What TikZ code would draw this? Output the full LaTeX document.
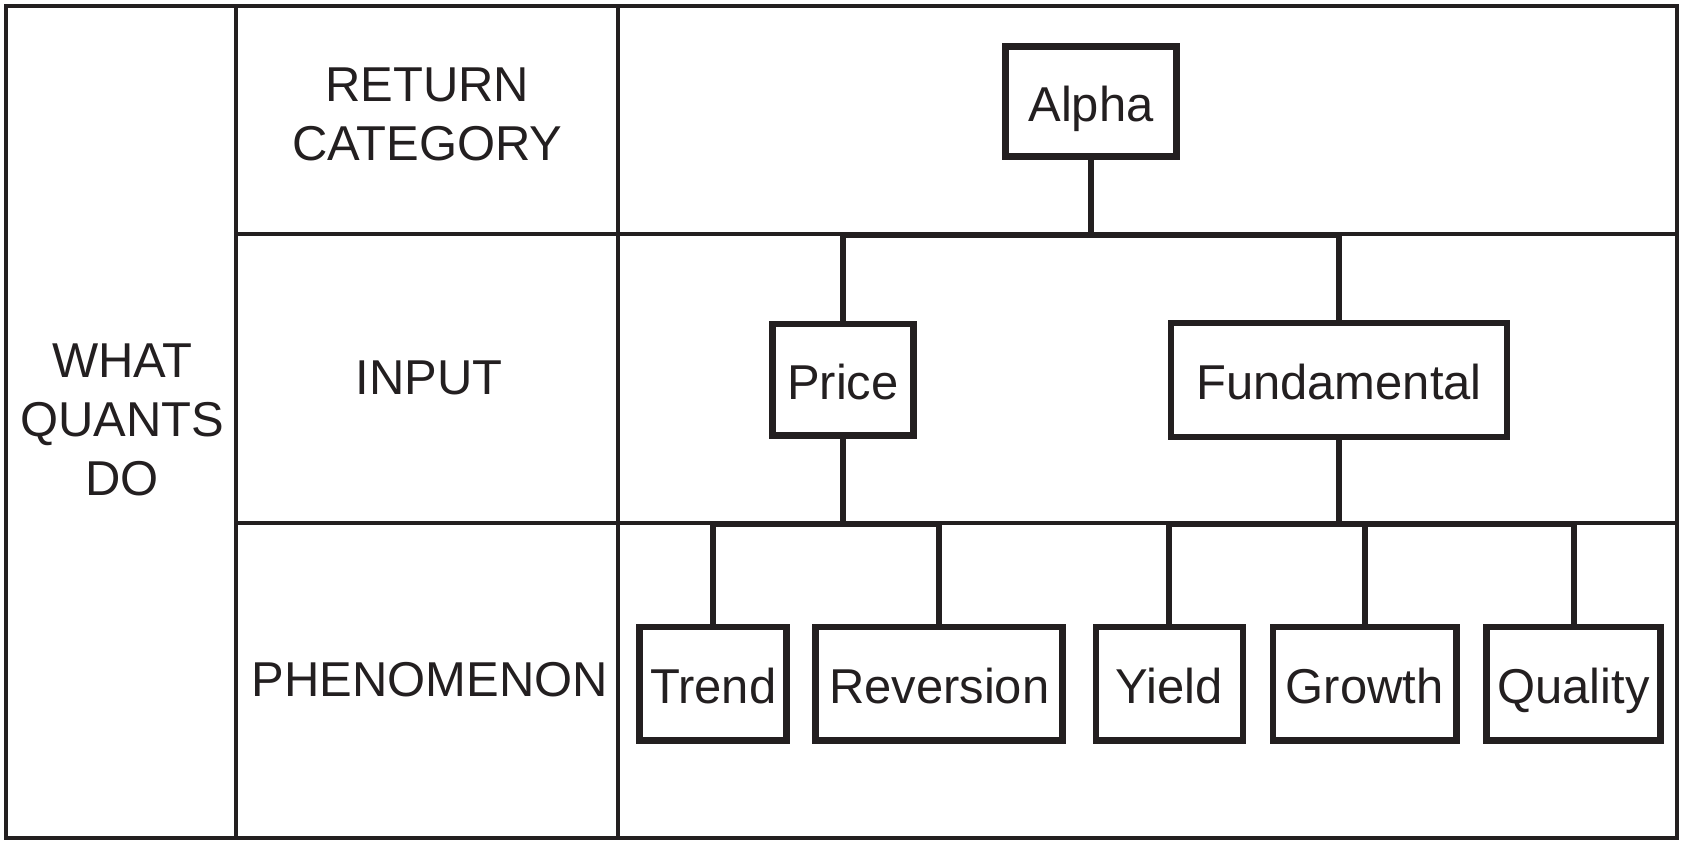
\documentclass[tikz,border=0pt]{standalone}
\usepackage{fontspec}
\setmainfont{Liberation Sans}
\definecolor{ink}{HTML}{231F20}
\begin{document}
\begin{tikzpicture}[x=0.5pt,y=-0.5pt,
  frameline/.style={line width=1.9pt,draw=ink},
  conn/.style={line width=2.8pt,draw=ink,line join=miter,line cap=butt},
  tbox/.style={draw=ink,line width=3.1pt,rectangle,inner sep=0pt,outer sep=0pt,
    minimum height=104*0.5pt,text=ink,
    font=\fontsize{22.8pt}{27pt}\selectfont,
    text height=18.6pt,text depth=0pt},
  rowlabel/.style={inner sep=0pt,outer sep=0pt,align=center,text=ink,
    font=\fontsize{22.8pt}{27.3pt}\selectfont}]
\useasboundingbox (0,0) rectangle (1568,787);
% frame
\draw[frameline] (6,6) rectangle (1562,781);
\coordinate (c1t) at (220,6);
\coordinate (c1b) at (220,781);
\coordinate (c2t) at (576,6);
\coordinate (c2b) at (576,781);
\coordinate (r1l) at (220,218);
\coordinate (r1r) at (1562,218);
\coordinate (r2l) at (220,487);
\coordinate (r2r) at (1562,487);
\draw[frameline] (c1t) -- (c1b);
\draw[frameline] (c2t) -- (c2b);
\draw[frameline] (r1l) -- (r1r);
\draw[frameline] (r2l) -- (r2r);
% row labels
\node[rowlabel] (wqd) at (114,391.3) {WHAT\\QUANTS\\DO};
\node[rowlabel] (rc) at (398,106.5) {RETURN\\CATEGORY};
\node[rowlabel] (inp) at (400,352.5) {INPUT};
\node[rowlabel] (phe) at (400.3,633.4) {PHENOMENON};
% boxes
\node[tbox,minimum width=159*0.5pt,minimum height=102.5*0.5pt] (alpha) at (1016.5,94.8) {Alpha};
\node[tbox,minimum width=131.5*0.5pt] (price) at (785.3,354) {Price};
\node[tbox,minimum width=313*0.5pt,minimum height=106*0.5pt] (fund) at (1247.5,354) {Fundamental};
\node[tbox,minimum width=137*0.5pt,minimum height=106*0.5pt] (trend) at (664.5,637) {Trend};
\node[tbox,minimum width=230*0.5pt,minimum height=106*0.5pt] (rev) at (875,637) {Reversion};
\node[tbox,minimum width=137*0.5pt,minimum height=106*0.5pt] (yield) at (1089.5,637) {Yield};
\node[tbox,minimum width=171*0.5pt,minimum height=106*0.5pt] (growth) at (1271.5,637) {Growth};
\node[tbox,minimum width=162*0.5pt,minimum height=106*0.5pt] (qual) at (1466,637) {Quality};
% connectors
\coordinate (b1) at (0,218.5);
\coordinate (b2) at (0,488);
\draw[conn] (alpha.south) -- (alpha.south |- b1);
\draw[conn] (price.north) |- (fund.north |- b1) -- (fund.north);
\draw[conn] (price.south) -- (price.south |- b2);
\draw[conn] (trend.north) |- (rev.north |- b2) -- (rev.north);
\draw[conn] (fund.south) -- (fund.south |- b2);
\draw[conn] (yield.north) |- (qual.north |- b2) -- (qual.north);
\draw[conn] (growth.north) -- (growth.north |- b2);
\end{tikzpicture}
\end{document}
